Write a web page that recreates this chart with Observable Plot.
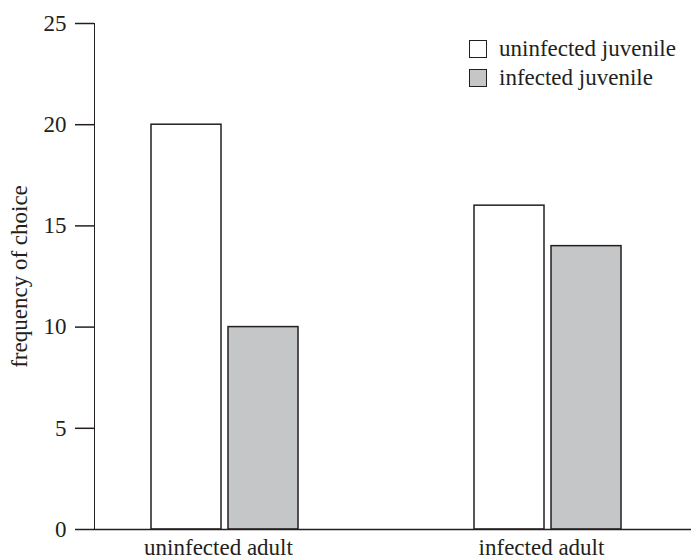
<!DOCTYPE html>
<html>
<head>
<meta charset="utf-8">
<script src="https://cdn.jsdelivr.net/npm/d3@7"></script>
<script src="https://cdn.jsdelivr.net/npm/@observablehq/plot@0.6"></script>
<style>
  html, body { margin: 0; padding: 0; background: #fff; }
  #wrap { position: relative; width: 691px; height: 559px; }
  #wrap svg { display: block; }
  #wrap svg [aria-label="y-axis tick"] path,
  #wrap svg [aria-label="y-axis line"],
  #wrap svg [aria-label="y-axis tick"] { stroke-width: 1.5; }
  .legend { position: absolute; left: 469px; font-family: "Liberation Serif", serif; font-size: 23px; color: #231f20; }
  .row { position: absolute; left: 0; height: 28px; display: flex; align-items: center; white-space: nowrap; }
  .box { width: 16px; height: 16px; border: 1.5px solid #231f20; margin-right: 12px; flex: none; }
</style>
</head>
<body>
<div id="wrap"></div>
<script>
const adults = ["uninfected adult", "infected adult"];
const juveniles = ["uninfected juvenile", "infected juvenile"];
const uninfectedJuvenile = [20, 16];
const infectedJuvenile = [10, 14];
const yTicks = [0, 5, 10, 15, 20, 25];
const fills = ["#ffffff", "#c5c6c8"];
const ink = "#231f20";

const series = [uninfectedJuvenile, infectedJuvenile];
const data = [];
adults.forEach((a, i) => {
  juveniles.forEach((j, k) => data.push({adult: a, juvenile: j, value: series[k][i]}));
});

const chart = Plot.plot({
  width: 691,
  height: 559,
  marginLeft: 94,
  marginRight: 0,
  marginTop: 23,
  marginBottom: 30,
  style: {fontFamily: "Liberation Serif", fontSize: "23px", color: ink, background: "#fff"},
  fx: {domain: adults, paddingInner: 0.152, paddingOuter: 0, align: 0, label: null},
  x: {domain: juveniles, axis: null, paddingInner: 0.0909, paddingOuter: 0.824, align: 0.449},
  y: {domain: [0, 25], ticks: yTicks, tickSize: 19, tickPadding: 9, line: true,
      label: "frequency of choice", labelAnchor: "center", labelOffset: 84, labelArrow: "none"},
  color: {domain: juveniles, range: fills},
  facet: {data, x: "adult"},
  marks: [
    Plot.barY(data, {x: "juvenile", y: "value", fill: "juvenile", stroke: ink, strokeWidth: 1.5}),
    Plot.frame({anchor: "bottom", facet: "super", stroke: ink, strokeWidth: 1.5}),
    Plot.axisFx({anchor: "bottom", tickSize: 0, tickPadding: 9, dx: -13, label: null, fill: ink})
  ]
});
const wrap = document.getElementById("wrap");
wrap.appendChild(chart);

const legend = document.createElement("div");
legend.className = "legend";
legend.style.top = "35px";
juveniles.forEach((j, k) => {
  const row = document.createElement("div");
  row.className = "row";
  row.style.top = (k * 28.5) + "px";
  const box = document.createElement("span");
  box.className = "box";
  box.style.background = fills[k];
  const txt = document.createElement("span");
  txt.textContent = j;
  row.appendChild(box);
  row.appendChild(txt);
  legend.appendChild(row);
});
wrap.appendChild(legend);
</script>
</body>
</html>
